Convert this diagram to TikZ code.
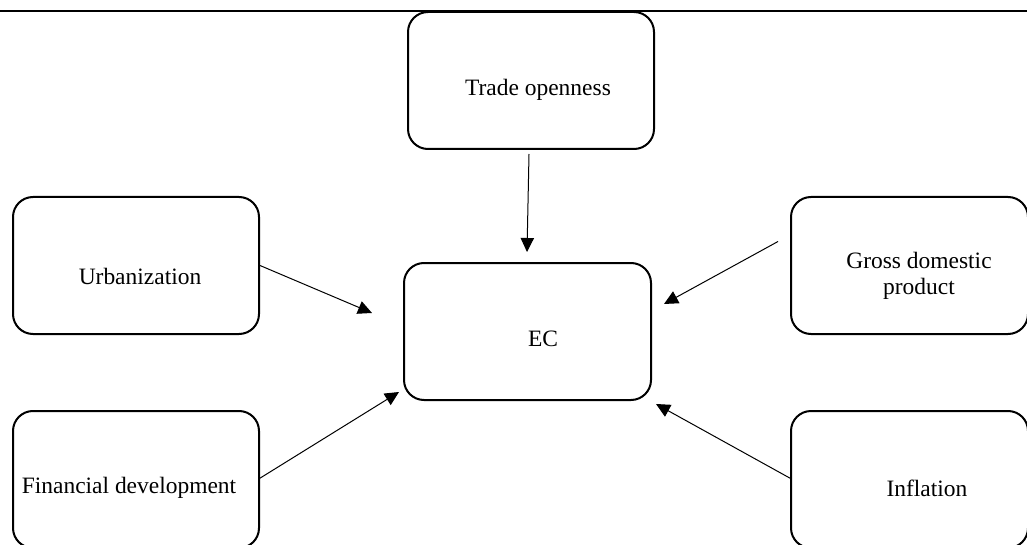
\documentclass[tikz,border=0pt]{standalone}
\usepackage{fontspec}
\setmainfont{Liberation Serif}
\usetikzlibrary{arrows.meta}
\begin{document}
\begin{tikzpicture}[x=0.75pt,y=-0.75pt,
  box/.style={draw, line width=1.5pt, rounded corners=15pt, inner sep=0pt,
    minimum width=184.5pt, minimum height=102.75pt},
  lbl/.style={font=\fontsize{17.6}{19.5}\selectfont, align=center, inner sep=0pt},
  arr/.style={line width=0.75pt, -{Triangle[length=10.5pt,width=10pt]}}]
\useasboundingbox (0,0) rectangle (1027,545);
\clip (0,0) rectangle (1027,545);
\fill[white] (0,0) rectangle (1027,545);
\draw[line width=2pt] (0,11) -- (1027,11);
% boxes
\node[box] (trade) at (531,80.5) {};
\node[box, minimum width=185.25pt] (ec) at (527.5,331.5) {};
\node[box] (urb) at (136,265.5) {};
\node[box, minimum width=177.75pt] (gdp) at (909.5,265.5) {};
\node[box] (fd) at (136,479.5) {};
\node[box, minimum width=177.75pt] (inf) at (909.5,479.5) {};
% labels
\node[lbl] (tradeT) at (538,90) {Trade openness};
\node[lbl] (ecT) at (543,339) {EC};
\node[lbl] (urbT) at (140,276) {Urbanization};
\node[lbl] (gdpT) at (919,276) {Gross domestic\\product};
\node[lbl] (fdT) at (129,488) {Financial development};
\node[lbl] (infT) at (927,488) {Inflation};
% arrow tips
\coordinate (tTip) at (527,252);
\coordinate (uTip) at (372,313);
\coordinate (fTip) at (399,392);
\coordinate (gTip) at (664,304);
\coordinate (iTip) at (656,404);
% connectors
\draw[arr] ([xshift=-1.5pt,yshift=-3pt]trade.south) -- (tTip);
\draw[arr] (urb.east) -- (uTip);
\draw[arr] ([yshift=1pt]fd.east) -- (fTip);
\draw[arr] ([xshift=-9pt,yshift=18pt]gdp.west) -- (gTip);
\draw[arr] ([yshift=1pt]inf.west) -- (iTip);
\end{tikzpicture}
\end{document}
